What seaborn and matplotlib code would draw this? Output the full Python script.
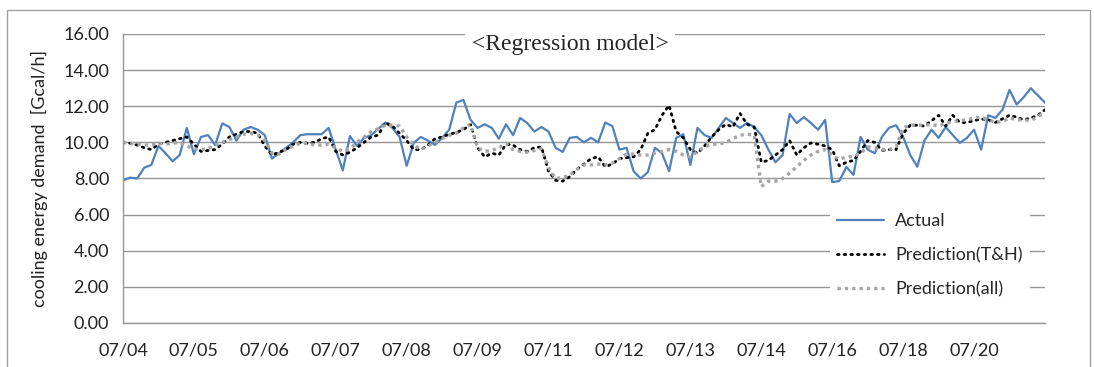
import numpy as np
import pandas as pd
import matplotlib
matplotlib.use("Agg")
import matplotlib.pyplot as plt
import seaborn as sns
from matplotlib.patches import Rectangle

# tick labels on the category axis (one every 10 samples)
tick_labels = ["07/04", "07/05", "07/06", "07/07", "07/08", "07/09", "07/11",
               "07/12", "07/13", "07/14", "07/16", "07/18", "07/20"]

# actual cooling energy demand [Gcal/h]
actual = [7.9, 8.05, 8.0, 8.6, 8.75, 9.8, 9.4, 8.95, 9.3, 10.8,
          9.35, 10.3, 10.4, 9.85, 11.05, 10.85, 10.1, 10.7, 10.85, 10.7,
          10.4, 9.1, 9.4, 9.7, 10.0, 10.4, 10.45, 10.45, 10.45, 10.8,
          9.6, 8.45, 10.35, 9.8, 10.25, 10.4, 10.75, 11.1, 10.8, 10.3,
          8.7, 9.97, 10.3, 10.1, 9.86, 10.25, 10.7, 12.2, 12.35, 11.25,
          10.8, 11.0, 10.8, 10.2, 11.0, 10.4, 11.35, 11.07, 10.6, 10.85,
          10.6, 9.7, 9.47, 10.25, 10.3, 10.0, 10.25, 10.0, 11.1, 10.9,
          9.6, 9.7, 8.4, 8.0, 8.35, 9.7, 9.4, 8.4, 10.25, 10.45,
          8.75, 10.8, 10.4, 10.25, 10.8, 11.35, 11.07, 10.8, 11.07, 10.85,
          10.4, 9.6, 8.9, 9.3, 11.57, 11.07, 11.4, 11.07, 10.7, 11.24,
          7.8, 7.86, 8.64, 8.2, 10.3, 9.6, 9.4, 10.3, 10.8, 10.95,
          10.3, 9.3, 8.65, 10.1, 10.7, 10.25, 10.85, 10.4, 9.97, 10.25,
          10.7, 9.6, 11.5, 11.35, 11.8, 12.9, 12.1, 12.5, 13.0, 12.6,
          12.2]

# regression prediction with temperature & humidity
pred_th = [10.0, 9.95, 9.85, 9.7, 9.6, 9.9, 10.0, 10.1, 10.2, 10.3,
           9.9, 9.5, 9.55, 9.6, 9.9, 10.3, 10.45, 10.6, 10.6, 10.5,
           9.8, 9.3, 9.45, 9.6, 9.9, 10.0, 9.95, 10.0, 10.2, 10.3,
           9.5, 9.3, 9.45, 9.7, 10.0, 10.3, 10.4, 11.1, 10.9, 10.5,
           10.1, 9.6, 9.6, 9.85, 10.2, 10.3, 10.45, 10.55, 10.7, 11.0,
           9.7, 9.2, 9.4, 9.3, 9.9, 9.85, 9.6, 9.5, 9.7, 9.75,
           8.4, 7.9, 7.85, 8.1, 8.5, 8.8, 9.1, 9.2, 8.65, 8.8,
           9.1, 9.15, 9.2, 9.6, 10.5, 10.7, 11.5, 12.05, 10.6, 10.25,
           9.6, 9.4, 9.8, 10.3, 10.7, 11.0, 10.85, 11.6, 11.0, 10.85,
           8.9, 9.0, 9.3, 9.6, 10.1, 9.3, 9.7, 9.97, 9.9, 9.8,
           9.6, 8.7, 8.9, 9.0, 9.5, 10.1, 10.0, 9.55, 9.6, 9.6,
           10.5, 10.95, 10.95, 10.9, 11.2, 11.5, 10.9, 11.5, 11.1, 11.1,
           11.2, 11.3, 11.25, 11.1, 11.3, 11.5, 11.4, 11.25, 11.35, 11.5,
           11.8]

# regression prediction with all variables
pred_all = [10.0, 9.95, 9.9, 9.85, 9.85, 9.95, 9.9, 9.95, 10.0, 9.8,
            9.65, 9.6, 9.65, 9.85, 10.0, 10.15, 10.3, 10.45, 10.5, 10.4,
            10.1, 9.4, 9.35, 9.6, 9.8, 9.95, 9.95, 9.85, 9.85, 9.9,
            9.7, 9.5, 9.65, 10.0, 10.3, 10.6, 10.75, 10.95, 10.95, 10.9,
            10.3, 9.85, 9.6, 9.8, 10.0, 10.2, 10.4, 10.5, 10.8, 11.0,
            9.7, 9.5, 9.55, 9.7, 9.95, 9.6, 9.5, 9.45, 9.55, 9.65,
            8.6, 8.0, 8.05, 8.2, 8.5, 8.75, 8.75, 8.8, 8.75, 8.85,
            9.1, 9.35, 9.35, 9.3, 9.3, 9.4, 9.5, 9.6, 9.5, 9.3,
            9.2, 9.5, 9.75, 9.9, 9.9, 10.0, 10.2, 10.4, 10.45, 10.4,
            7.55, 7.85, 7.85, 8.0, 8.3, 8.65, 9.0, 9.3, 9.5, 9.6,
            9.3, 9.05, 9.2, 9.2, 9.4, 9.75, 9.7, 9.6, 9.6, 9.75,
            10.8, 10.95, 10.95, 10.95, 11.0, 10.9, 11.05, 11.15, 11.2, 11.25,
            11.35, 11.4, 11.25, 11.1, 11.15, 11.35, 11.25, 11.25, 11.2, 11.45,
            11.65]

df = pd.DataFrame({"idx": np.arange(len(actual)),
                   "Actual": actual,
                   "Prediction(T&H)": pred_th,
                   "Prediction(all)": pred_all})

sns.set_style("white")
plt.rcParams["font.family"] = ["Lato", "DejaVu Sans"]

fig = plt.figure(figsize=(10.94, 3.67), dpi=100)
ax = fig.add_axes([0.1124, 0.1199, 0.8428, 0.7875])

sns.lineplot(data=df, x="idx", y="Actual", ax=ax, color="#4f81bd", lw=1.6,
             label="Actual")
sns.lineplot(data=df, x="idx", y="Prediction(T&H)", ax=ax, color="black", lw=2.0,
             linestyle=(0, (0.6, 1.8)), dash_capstyle="round",
             label="Prediction(T&H)")
sns.lineplot(data=df, x="idx", y="Prediction(all)", ax=ax, color="#a6a6a6", lw=2.4,
             linestyle=(0, (1, 1.2)), label="Prediction(all)")

ax.set_xlim(0, len(actual) - 1)
ax.set_ylim(0, 16)
ax.set_yticks(np.arange(0, 16.1, 2))
ax.set_yticklabels([f"{v:.2f}" for v in np.arange(0, 16.1, 2)])
ax.set_xticks(np.arange(0, len(actual), 10))
ax.set_xticklabels(tick_labels + [""])

ax.grid(axis="y", color="#969696", lw=1.0)
ax.set_axisbelow(True)
for s in ["top", "right"]:
    ax.spines[s].set_visible(False)
for s in ["left", "bottom"]:
    ax.spines[s].set_color("#969696")
    ax.spines[s].set_linewidth(1.0)
ax.tick_params(axis="both", direction="out", length=5, width=1, color="#969696",
               labelsize=13, labelcolor="#222222")
ax.tick_params(axis="x", pad=9)
ax.tick_params(axis="y", pad=5)

ax.set_xlabel("")
ax.set_ylabel("cooling energy demand  [Gcal/h]", fontsize=13, color="#222222")
ax.yaxis.set_label_coords(-0.081, 0.5)

ax.text(0.485, 0.962, "<Regression model>", transform=ax.transAxes,
        ha="center", va="center", fontsize=17, family="Liberation Serif",
        bbox=dict(facecolor="white", edgecolor="none", pad=5))

leg = ax.legend(loc="upper left", bbox_to_anchor=(0.767, 0.405), fontsize=13,
                frameon=True, framealpha=1, facecolor="white", edgecolor="none",
                handlelength=2.6, handletextpad=0.6, labelspacing=1.0,
                borderaxespad=0)

fig.patches.append(Rectangle((0.0064, -0.05), 0.9900, 1.0228, transform=fig.transFigure,
                             fill=False, edgecolor="#a0a0a0", lw=1.0))

fig.savefig("out.png", dpi=100)
